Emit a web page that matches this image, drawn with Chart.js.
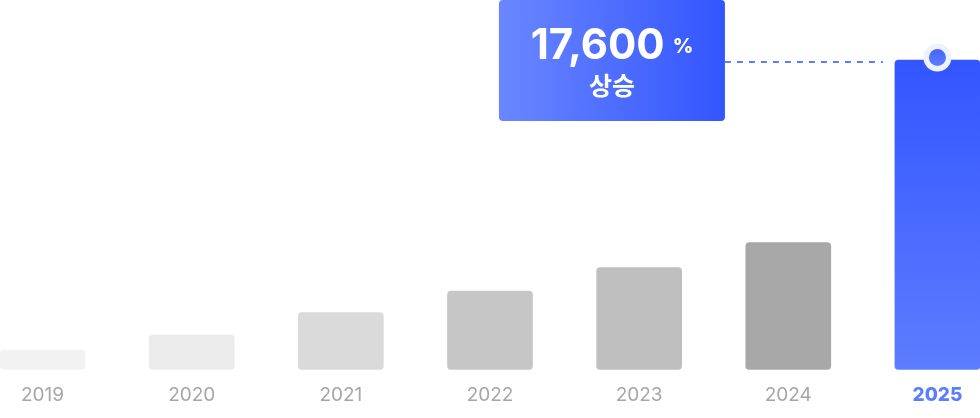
<!DOCTYPE html>
<html>
<head>
<meta charset="utf-8">
<script src="https://cdn.jsdelivr.net/npm/chart.js@4.4.1/dist/chart.umd.min.js"></script>
<style>
  html, body { margin: 0; padding: 0; background: #ffffff; overflow: hidden; width: 980px; height: 418px; }
  #wrap { position: absolute; left: -32px; top: 0; width: 1044px; height: 433px; }
</style>
</head>
<body>
<div id="wrap"><canvas id="c" width="1044" height="433"></canvas></div>
<script>
// ---- data ----
const years = ['2019', '2020', '2021', '2022', '2023', '2024', '2025'];
const values = [19.5, 34.5, 57, 78.5, 102, 127, 309];
const barColors = ['#f2f2f2', '#ebebeb', '#dadada', '#c6c6c6', '#bfbfbf', '#a8a8a8', null];
const calloutValue = '17,600';
const calloutUnit = '%';
const calloutText = '상승';
const highlightIndex = 6;

const BLUE_TOP = '#3355ff';
const BLUE_BOTTOM = '#5c7dff';

function barColor(ctx) {
  const i = ctx.dataIndex;
  if (i !== highlightIndex) return barColors[i];
  const chart = ctx.chart;
  const area = chart.chartArea;
  if (!area) return BLUE_BOTTOM;
  const yScale = chart.scales.y;
  const top = yScale.getPixelForValue(values[i]);
  const bottom = yScale.getPixelForValue(0);
  const g = chart.ctx.createLinearGradient(0, top, 0, bottom);
  g.addColorStop(0, BLUE_TOP);
  g.addColorStop(1, BLUE_BOTTOM);
  return g;
}

function roundRect(ctx, x, y, w, h, r) {
  ctx.beginPath();
  ctx.moveTo(x + r, y);
  ctx.lineTo(x + w - r, y);
  ctx.quadraticCurveTo(x + w, y, x + w, y + r);
  ctx.lineTo(x + w, y + h - r);
  ctx.quadraticCurveTo(x + w, y + h, x + w - r, y + h);
  ctx.lineTo(x + r, y + h);
  ctx.quadraticCurveTo(x, y + h, x, y + h - r);
  ctx.lineTo(x, y + r);
  ctx.quadraticCurveTo(x, y, x + r, y);
  ctx.closePath();
}

const calloutPlugin = {
  id: 'callout',
  afterDatasetsDraw(chart) {
    const ctx = chart.ctx;
    const meta = chart.getDatasetMeta(0);
    const bar = meta.data[highlightIndex];
    const cx = bar.x;
    const top = bar.y;
    const half = bar.width / 2;
    const barLeft = cx - half;

    // callout box
    const boxRight = barLeft - 170;
    const boxW = 226, boxH = 121;
    const boxLeft = boxRight - boxW;
    const boxTop = 0;
    ctx.save();
    const g = ctx.createLinearGradient(boxLeft, 0, boxRight, 0);
    g.addColorStop(0, '#6a87ff');
    g.addColorStop(1, '#3355ff');
    ctx.fillStyle = g;
    roundRect(ctx, boxLeft, boxTop, boxW, boxH, 4);
    ctx.fill();

    // text
    const mid = boxLeft + boxW / 2;
    ctx.fillStyle = '#ffffff';
    ctx.textBaseline = 'alphabetic';
    ctx.textAlign = 'left';
    const bigFont = '700 42px Inter, "Noto Sans CJK KR", sans-serif';
    const smallFont = '800 20px Inter, "Noto Sans CJK KR", sans-serif';
    ctx.font = bigFont;
    const w1 = ctx.measureText(calloutValue).width;
    ctx.font = smallFont;
    const w2 = ctx.measureText(calloutUnit).width;
    const gap = 8;
    const startX = mid - (w1 + gap + w2) / 2;
    ctx.font = bigFont;
    ctx.fillText(calloutValue, startX, boxTop + 59);
    ctx.font = smallFont;
    ctx.fillText(calloutUnit, startX + w1 + gap, boxTop + 53);
    ctx.font = '700 25px "Noto Sans CJK KR", Inter, sans-serif';
    ctx.textAlign = 'center';
    ctx.textBaseline = 'middle';
    ctx.fillText(calloutText, mid, boxTop + 85);

    // dashed line
    ctx.strokeStyle = '#5c7dff';
    ctx.lineWidth = 2;
    ctx.setLineDash([6, 6]);
    ctx.beginPath();
    ctx.moveTo(boxRight, top + 2);
    ctx.lineTo(barLeft - 12, top + 2);
    ctx.stroke();
    ctx.setLineDash([]);

    // marker
    ctx.fillStyle = '#eef2ff';
    ctx.beginPath();
    ctx.arc(cx, top - 2.5, 14, 0, Math.PI * 2);
    ctx.fill();
    const mg = ctx.createLinearGradient(0, top - 11, 0, top + 6);
    mg.addColorStop(0, '#4765ff');
    mg.addColorStop(1, '#5c7dff');
    ctx.fillStyle = mg;
    ctx.beginPath();
    ctx.arc(cx, top - 2.5, 8.5, 0, Math.PI * 2);
    ctx.fill();
    ctx.restore();
  }
};

new Chart(document.getElementById('c'), {
  type: 'bar',
  data: {
    labels: years,
    datasets: [{
      data: values,
      backgroundColor: barColor,
      borderRadius: 4,
      borderSkipped: false,
      barThickness: 85
    }]
  },
  options: {
    responsive: false,
    animation: false,
    devicePixelRatio: 1,
    layout: { padding: { top: 0, bottom: 12.5, left: 0, right: 0 } },
    plugins: { legend: { display: false }, tooltip: { enabled: false } },
    scales: {
      x: {
        offset: true,
        grid: { display: false, drawTicks: false },
        border: { display: false },
        ticks: {
          padding: 14,
          color: (c) => c.index === highlightIndex ? '#5c7dff' : '#a6a6a6',
          font: (c) => ({
            family: 'Inter, "Noto Sans", sans-serif',
            size: 19,
            weight: c.index === highlightIndex ? '800' : '400'
          })
        }
      },
      y: {
        display: false,
        min: 0,
        max: 369
      }
    }
  },
  plugins: [calloutPlugin]
});
</script>
</body>
</html>
